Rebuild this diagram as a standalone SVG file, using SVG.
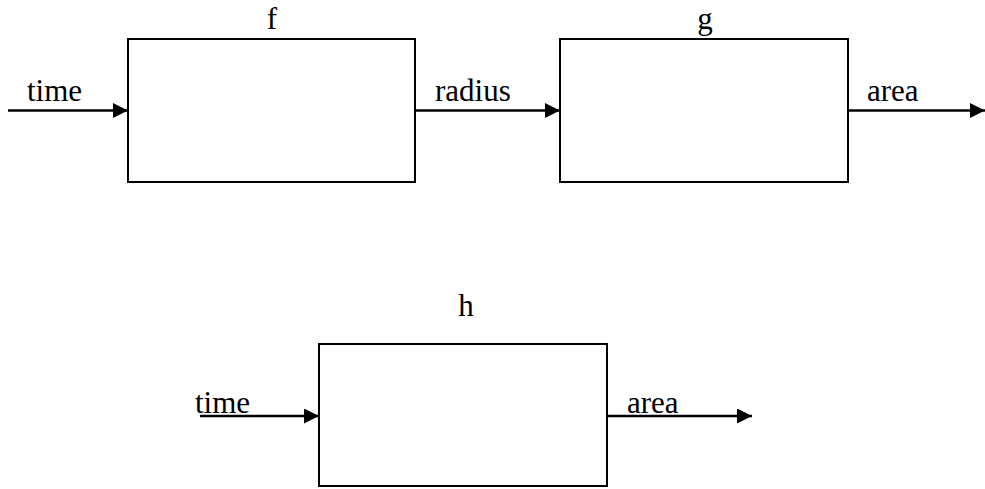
<svg xmlns="http://www.w3.org/2000/svg" width="985" height="489" viewBox="0 0 985 489">
  <style>
    .box { fill: #ffffff; stroke: #000000; stroke-width: 2; }
    .wire { fill: none; stroke: #000000; stroke-width: 2.5; marker-end: url(#head); }
    .lbl { font-family: "Liberation Serif", "Times New Roman", serif; font-size: 31px; fill: #000000; }
    .mid { text-anchor: middle; }
  </style>
  <defs>
    <marker id="head" markerUnits="userSpaceOnUse" markerWidth="16" markerHeight="16" refX="15" refY="7.5" orient="auto">
      <path d="M0,0 L15,7.5 L0,15 Z" fill="#000000"/>
    </marker>
  </defs>
  <rect width="985" height="489" fill="#ffffff"/>

  <!-- function blocks -->
  <g id="node-f">
    <rect class="box" x="128" y="39" width="287" height="143"/>
    <text class="lbl mid" x="272" y="29">f</text>
  </g>
  <g id="node-g">
    <rect class="box" x="560" y="39" width="288" height="143"/>
    <text class="lbl mid" x="705" y="29">g</text>
  </g>
  <g id="node-h">
    <rect class="box" x="319" y="344" width="288" height="142"/>
    <text class="lbl mid" x="466" y="316">h</text>
  </g>

  <!-- signal lines between blocks -->
  <g id="connectors">
    <line class="wire" x1="8" y1="110.5" x2="128" y2="110.5"/>
    <line class="wire" x1="415" y1="110.5" x2="560" y2="110.5"/>
    <line class="wire" x1="848" y1="110.5" x2="985" y2="110.5"/>
    <line class="wire" x1="200" y1="416" x2="319" y2="416"/>
    <line class="wire" x1="607" y1="416" x2="752" y2="416"/>
    <text class="lbl" x="27" y="101">time</text>
    <text class="lbl" x="435" y="101">radius</text>
    <text class="lbl" x="867" y="101">area</text>
    <text class="lbl" x="195" y="413">time</text>
    <text class="lbl" x="627" y="413">area</text>
  </g>
</svg>
